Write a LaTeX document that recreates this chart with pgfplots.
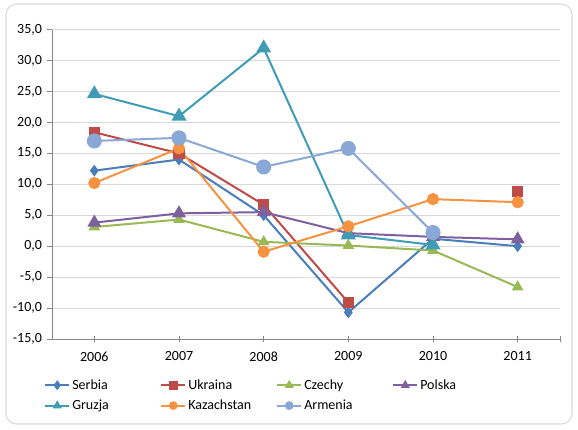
\documentclass[border=0pt]{standalone}
\usepackage{pgfplots}
\pgfplotsset{compat=1.18}
\usepackage{fontspec}
\setmainfont{Carlito}
\definecolor{cSer}{HTML}{4A7EBB}
\definecolor{cUkr}{HTML}{BE4B48}
\definecolor{cCze}{HTML}{98B954}
\definecolor{cPol}{HTML}{7D60A0}
\definecolor{cGru}{HTML}{3F9CB4}
\definecolor{cKaz}{HTML}{F69240}
\definecolor{cArm}{HTML}{8AA8D6}
\definecolor{cGrid}{HTML}{D9D9D9}
\definecolor{cAxis}{HTML}{868686}
\begin{document}
\begin{tikzpicture}
\path[use as bounding box] (0,0) rectangle (433.5pt,321.75pt);
\draw[rounded corners=8pt, cGrid, line width=0.8pt] (4.5pt,3.75pt) rectangle (429pt,318.75pt);
\begin{axis}[
  at={(39pt,67.5pt)}, anchor=south west,
  scale only axis, width=381pt, height=232.1pt,
  xmin=-0.5, xmax=5.5, ymin=-15, ymax=35,
  xtick={0,1,2,3,4,5}, xticklabels={2006,2007,2008,2009,2010,2011},
  extra x ticks={5.5}, extra x tick labels={},
  extra x tick style={grid=none},
  ytick={-15,-10,...,35},
  ymajorgrids, grid style={cGrid, line width=0.6pt},
  axis x line*=bottom, axis y line*=left,
  axis line style={cAxis, line width=0.6pt},
  tick style={cAxis, line width=0.6pt},
  major tick length=4pt, xtick align=center, ytick align=outside,
  tick label style={font=\fontsize{10.5}{12}\selectfont, text=black},
  /pgf/number format/assume math mode=true,
  yticklabel style={/pgf/number format/.cd, fixed, fixed zerofill, precision=1, use comma},
  yticklabel={\pgfmathprintnumber{\tick}},
  xticklabel style={yshift=-4pt},
  unbounded coords=jump,
  every axis plot/.append style={line width=1.5pt},
  legend columns=4,
  legend style={at={(-0.0236,-0.1145)}, anchor=north west, draw=none, fill=none,
    font=\fontsize{10.5}{12}\selectfont, row sep=3.5pt,
    nodes={text width=64.5pt, align=left, inner sep=1.5pt}},
  legend cell align=left,
  legend image code/.code={\draw[mark repeat=2,mark phase=2, mark size=2.5pt, line width=1.5pt] plot coordinates {(0pt,0pt) (9pt,0pt) (18pt,0pt)};},
]
\addplot[cSer, mark=diamond*, mark size=3.2pt] coordinates {(0,12.2) (1,14.0) (2,5.0) (3,-10.7) (4,1.2) (5,0.0)};
\addlegendentry{Serbia}
\addplot[cUkr, mark=square*, mark size=3.5pt] coordinates {(0,18.4) (1,15.0) (2,6.7) (3,-9.1) (4,nan) (5,8.8)};
\addlegendentry{Ukraina}
\addplot[cCze, mark=triangle*, mark size=3.6pt] coordinates {(0,3.1) (1,4.3) (2,0.7) (3,0.1) (4,-0.7) (5,-6.6)};
\addlegendentry{Czechy}
\addplot[cPol, mark=triangle*, mark size=4.6pt] coordinates {(0,3.8) (1,5.3) (2,5.5) (3,2.1) (4,1.5) (5,1.1)};
\addlegendentry{Polska}
\addplot[cGru, mark=triangle*, mark size=5pt] coordinates {(0,24.6) (1,21.0) (2,32.0) (3,1.8) (4,0.2)};
\addlegendentry{Gruzja}
\addplot[cKaz, mark=*, mark size=3.8pt] coordinates {(0,10.2) (1,15.8) (2,-0.9) (3,3.2) (4,7.6) (5,7.1)};
\addlegendentry{Kazachstan}
\addplot[cArm, mark=*, mark size=4.9pt] coordinates {(0,17.0) (1,17.5) (2,12.8) (3,15.8) (4,2.2)};
\addlegendentry{Armenia}
\end{axis}
\end{tikzpicture}
\end{document}
